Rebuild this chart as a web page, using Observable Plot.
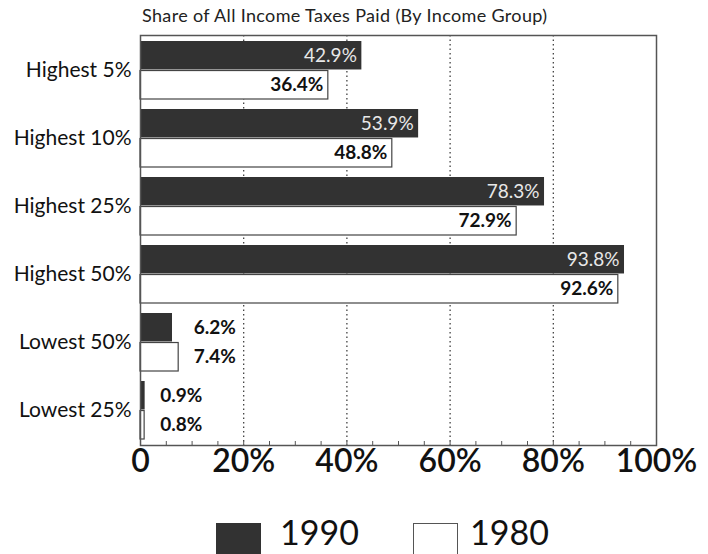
<!DOCTYPE html>
<html>
<head>
<meta charset="utf-8">
<script src="https://cdn.jsdelivr.net/npm/d3@7"></script>
<script src="https://cdn.jsdelivr.net/npm/@observablehq/plot@0.6"></script>
<style>
  html, body { margin: 0; padding: 0; background: #fff; }
  body { width: 708px; height: 554px; overflow: hidden; font-family: Lato, "Open Sans", sans-serif; color: #111; }
  #title { height: 30px; box-sizing: border-box; padding: 6px 0 0 142px; font-size: 18px; letter-spacing: 0.35px; line-height: 19px; color: #222; white-space: nowrap; }
  #legend { position: relative; height: 62px; }
  .sw { position: absolute; top: 31px; width: 45px; height: 40px; box-sizing: border-box; }
  .lt { position: absolute; top: 23px; font-size: 34px; line-height: 34px; color: #111; }
</style>
</head>
<body>
<div id="title">Share of All Income Taxes Paid (By Income Group)</div>
<div id="chart"></div>
<div id="legend"></div>
<script>
const groups = ["Highest 5%", "Highest 10%", "Highest 25%", "Highest 50%", "Lowest 50%", "Lowest 25%"];
const share1990 = [42.9, 53.9, 78.3, 93.8, 6.2, 0.9];
const share1980 = [36.4, 48.8, 72.9, 92.6, 7.4, 0.8];
const years = ["1990", "1980"];
const xTicks = [0, 20, 40, 60, 80, 100];
const xTickLabels = ["0", "20%", "40%", "60%", "80%", "100%"];
const gridValues = [20, 40, 60, 80];
const minorTicks = [5, 10, 15, 20, 25, 30, 35, 40, 45, 50, 55, 60, 65, 70, 75, 80, 85, 90, 95];

const rows = groups.map((g, i) => ({group: g, v1990: share1990[i], v1980: share1980[i], vmax: Math.max(share1990[i], share1980[i])}));
const ticksData = xTicks.map((t, i) => ({t, label: xTickLabels[i]}));

const W = 708, H = 462, mTop = 5, mBottom = 47, mLeft = 140, mRight = 52;
const padInner = 0.142, padOuter = 0.05;
const bw = d3.scaleBand().domain(groups).range([mTop, H - mBottom]).paddingInner(padInner).paddingOuter(padOuter).bandwidth();
const frameH = H - mTop - mBottom;
const dark = "#323232";
const inside = d => d > 20;

const plot = Plot.plot({
  width: W, height: H,
  marginTop: mTop, marginBottom: mBottom, marginLeft: mLeft, marginRight: mRight,
  style: {fontFamily: "Lato, 'Open Sans', sans-serif", background: "white"},
  x: {domain: [0, 100], axis: null},
  y: {domain: groups, axis: null, paddingInner: padInner, paddingOuter: padOuter},
  marks: [
    Plot.ruleX(gridValues, {x: d => d, stroke: "#333", strokeWidth: 1.2, strokeDasharray: "1.5,3"}),
    Plot.ruleX(minorTicks, {x: d => d, stroke: "#555", strokeWidth: 1, insetTop: frameH - 4}),
    Plot.barX(rows, {x: "v1990", y: "group", fill: dark, insetBottom: bw / 2}),
    Plot.barX(rows, {x: "v1980", y: "group", fill: "white", stroke: "#444", strokeWidth: 1.2, insetTop: bw / 2}),
    Plot.frame({stroke: "#555", strokeWidth: 1.5}),
    Plot.text(rows.filter(r => inside(r.v1990)), {x: "v1990", y: "group", text: r => r.v1990.toFixed(1) + "%", dy: -bw / 4, dx: -5, textAnchor: "end", fill: "#e8e8e8", fontSize: 19}),
    Plot.text(rows.filter(r => inside(r.v1980)), {x: "v1980", y: "group", text: r => r.v1980.toFixed(1) + "%", dy: bw / 4, dx: -5, textAnchor: "end", fill: "#111", fontSize: 19, fontWeight: "bold"}),
    Plot.text(rows.filter(r => !inside(r.v1990)), {x: "vmax", y: "group", text: r => r.v1990.toFixed(1) + "%", dy: -bw / 4, dx: 15, textAnchor: "start", fill: "#111", fontSize: 19, fontWeight: "bold"}),
    Plot.text(rows.filter(r => !inside(r.v1980)), {x: "vmax", y: "group", text: r => r.v1980.toFixed(1) + "%", dy: bw / 4, dx: 15, textAnchor: "start", fill: "#111", fontSize: 19, fontWeight: "bold"}),
    Plot.text(groups, {y: d => d, frameAnchor: "left", dx: -9, textAnchor: "end", text: d => d, fill: "#111", fontSize: 21}),
    Plot.text(ticksData, {x: "t", frameAnchor: "bottom", dy: 26, text: "label", fill: "#111", fontSize: 32, fontWeight: 600})
  ]
});
document.getElementById("chart").appendChild(plot);

const legend = document.getElementById("legend");
const legendStyle = [
  {sw: 216, tx: 280, fill: dark, border: "none"},
  {sw: 413, tx: 470, fill: "white", border: "1.5px solid #555"}
];
years.forEach((y, i) => {
  const s = document.createElement("div");
  s.className = "sw";
  s.style.left = legendStyle[i].sw + "px";
  s.style.background = legendStyle[i].fill;
  s.style.border = legendStyle[i].border;
  legend.appendChild(s);
  const t = document.createElement("div");
  t.className = "lt";
  t.style.left = legendStyle[i].tx + "px";
  t.textContent = y;
  legend.appendChild(t);
});
</script>
</body>
</html>
